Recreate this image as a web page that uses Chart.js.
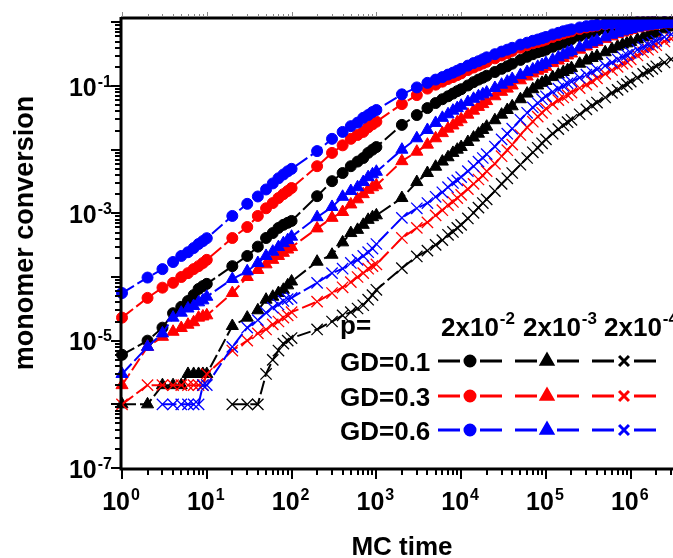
<!DOCTYPE html>
<html>
<head>
<meta charset="utf-8">
<script src="https://cdn.jsdelivr.net/npm/chart.js@4.4.1/dist/chart.umd.min.js"></script>
<style>
html, body { margin: 0; padding: 0; background: #fff; overflow: hidden; }
#wrap { width: 673px; height: 558px; overflow: hidden; }
canvas { display: block; }
</style>
</head>
<body>
<div id="wrap"><canvas id="convChart" width="700" height="558"></canvas></div>
<script>
// MC time grid (shared by every curve)
const mcTime = [1, 2, 3, 4, 5, 6, 7, 8, 9, 10,
  20, 30, 40, 50, 60, 70, 80, 90, 100,
  200, 300, 400, 500, 600, 700, 800, 900, 1000,
  2000, 3000, 4000, 5000, 6000, 7000, 8000, 9000, 10000,
  12000, 14000, 16000, 18000, 20000, 25000, 30000, 35000, 40000, 50000, 60000, 70000, 80000, 90000, 100000,
  120000, 140000, 160000, 180000, 200000, 250000, 300000, 350000, 400000, 500000, 600000, 700000, 800000, 900000, 1000000,
  1200000, 1400000, 1600000, 1800000, 2000000, 2500000, 3000000];

// GD=0.1 (black)
const gd01_p2e2 = [6e-6, 1.0e-5, 1.6e-5, 2.7e-5, 3.4e-5, 4.2e-5, 5.2e-5, 6.5e-5, 7.2e-5, 7.8e-5,
  1.48e-4, 2.14e-4, 3.0e-4, 4.1e-4, 4.9e-4, 5.9e-4, 6.6e-4, 7.1e-4, 7.6e-4,
  1.86e-3, 3.2e-3, 4.3e-3, 5.5e-3, 6.5e-3, 7.4e-3, 8.9e-3, 1.0e-2, 1.1e-2,
  2.45e-2, 3.5e-2, 4.5e-2, 5.4e-2, 6.2e-2, 6.9e-2, 7.6e-2, 8.3e-2, 8.9e-2,
  0.102, 0.115, 0.126, 0.135, 0.145, 0.166, 0.186, 0.204, 0.224, 0.257, 0.288, 0.316, 0.339, 0.355, 0.372,
  0.412, 0.447, 0.479, 0.513, 0.543, 0.61, 0.661, 0.708, 0.741, 0.794, 0.841, 0.871, 0.902, 0.923, 0.938,
  0.959, 0.973, 0.982, 0.989, 0.993, 0.998, 1.0];
const gd01_p2e3 = [1e-6, 1e-6, 2e-6, 2e-6, 2e-6, 3e-6, 3e-6, 3e-6, 3e-6, 3e-6,
  1.7e-5, 2.3e-5, 3.0e-5, 4.4e-5, 4.9e-5, 5.6e-5, 6.3e-5, 7.4e-5, 8.5e-5,
  1.74e-4, 2.24e-4, 3.5e-4, 4.9e-4, 5.5e-4, 6.6e-4, 7.9e-4, 8.7e-4, 9.3e-4,
  1.74e-3, 3.1e-3, 4.3e-3, 5.4e-3, 6.5e-3, 7.6e-3, 8.9e-3, 1.0e-2, 1.1e-2,
  1.32e-2, 1.55e-2, 1.78e-2, 2.04e-2, 2.3e-2, 2.9e-2, 3.55e-2, 4.2e-2, 4.8e-2, 6.2e-2, 7.6e-2, 8.9e-2, 0.102, 0.112, 0.12,
  0.138, 0.151, 0.166, 0.178, 0.191, 0.224, 0.251, 0.275, 0.295, 0.339, 0.38, 0.417, 0.447, 0.468, 0.49,
  0.537, 0.582, 0.624, 0.661, 0.7, 0.776, 0.832];
const gd01_p2e4 = [null, null, null, null, null, null, null, null, null, null,
  1e-6, 1e-6, 1e-6, 3e-6, 5e-6, 7e-6, 9e-6, 1.0e-5, 1.1e-5,
  1.5e-5, 2.0e-5, 2.5e-5, 2.8e-5, 3.2e-5, 3.6e-5, 4.4e-5, 5.2e-5, 6.3e-5,
  1.38e-4, 2.1e-4, 2.6e-4, 3.2e-4, 3.8e-4, 4.6e-4, 5.1e-4, 5.9e-4, 6.6e-4,
  8.3e-4, 1.02e-3, 1.23e-3, 1.45e-3, 1.66e-3, 2.24e-3, 2.9e-3, 3.55e-3, 4.3e-3, 5.8e-3, 7.4e-3, 9.1e-3, 1.07e-2, 1.26e-2, 1.45e-2,
  1.78e-2, 2.1e-2, 2.4e-2, 2.7e-2, 2.95e-2, 3.6e-2, 4.3e-2, 4.9e-2, 5.5e-2, 6.6e-2, 7.8e-2, 8.7e-2, 9.8e-2, 0.107, 0.117,
  0.135, 0.155, 0.17, 0.186, 0.204, 0.234, 0.263];

// GD=0.3 (red)
const gd03_p2e2 = [2.3e-5, 4.7e-5, 6.8e-5, 8.1e-5, 1.0e-4, 1.15e-4, 1.33e-4, 1.48e-4, 1.66e-4, 1.86e-4,
  4.1e-4, 6.1e-4, 9.1e-4, 1.2e-3, 1.45e-3, 1.74e-3, 2.0e-3, 2.24e-3, 2.5e-3,
  5.5e-3, 8.9e-3, 1.17e-2, 1.48e-2, 1.7e-2, 1.9e-2, 2.24e-2, 2.5e-2, 2.75e-2,
  5.2e-2, 7.2e-2, 9.1e-2, 0.105, 0.117, 0.129, 0.138, 0.148, 0.158,
  0.178, 0.195, 0.211, 0.226, 0.24, 0.272, 0.302, 0.327, 0.355, 0.398, 0.437, 0.468, 0.49, 0.513, 0.537,
  0.589, 0.631, 0.668, 0.7, 0.724, 0.785, 0.832, 0.865, 0.891, 0.933, 0.955, 0.97, 0.98, 0.986, 0.99,
  0.994, 0.996, 0.997, 0.998, 0.999, 1.0, 1.0];
const gd03_p2e3 = [2e-6, 8e-6, 1.15e-5, 1.38e-5, 1.58e-5, 1.78e-5, 1.95e-5, 2.3e-5, 2.4e-5, 2.5e-5,
  5.6e-5, 1.0e-4, 1.29e-4, 1.58e-4, 1.86e-4, 2.14e-4, 2.4e-4, 2.7e-4, 2.95e-4,
  5.8e-4, 8.5e-4, 1.05e-3, 1.38e-3, 1.66e-3, 2.0e-3, 2.34e-3, 2.57e-3, 2.75e-3,
  6.6e-3, 9.3e-3, 1.2e-2, 1.51e-2, 1.82e-2, 2.14e-2, 2.4e-2, 2.7e-2, 3.0e-2,
  3.55e-2, 4.1e-2, 4.7e-2, 5.2e-2, 5.8e-2, 6.9e-2, 8.1e-2, 9.1e-2, 0.102, 0.123, 0.141, 0.158, 0.174, 0.186, 0.2,
  0.229, 0.251, 0.275, 0.302, 0.324, 0.372, 0.417, 0.457, 0.49, 0.55, 0.603, 0.653, 0.692, 0.724, 0.759,
  0.804, 0.838, 0.865, 0.887, 0.904, 0.933, 0.953];
const gd03_p2e4 = [1e-6, 2e-6, 2e-6, 2e-6, 2e-6, 2e-6, 2e-6, 2e-6, 2e-6, 3e-6,
  7e-6, 1.0e-5, 1.3e-5, 1.5e-5, 1.8e-5, 2.0e-5, 2.3e-5, 2.5e-5, 2.8e-5,
  4.1e-5, 5.6e-5, 6.9e-5, 8.3e-5, 1.0e-4, 1.15e-4, 1.35e-4, 1.48e-4, 1.58e-4,
  4.1e-4, 5.9e-4, 7.2e-4, 9.3e-4, 1.12e-3, 1.35e-3, 1.51e-3, 1.74e-3, 1.95e-3,
  2.4e-3, 2.9e-3, 3.4e-3, 3.9e-3, 4.6e-3, 6.0e-3, 7.9e-3, 9.8e-3, 1.2e-2, 1.7e-2, 2.24e-2, 2.75e-2, 3.3e-2, 3.8e-2, 4.4e-2,
  5.2e-2, 6.0e-2, 6.6e-2, 7.2e-2, 7.9e-2, 9.3e-2, 0.105, 0.117, 0.132, 0.155, 0.178, 0.2, 0.224, 0.24, 0.263,
  0.302, 0.339, 0.372, 0.407, 0.437, 0.501, 0.55];

// GD=0.6 (blue)
const gd06_p2e2 = [5.6e-5, 9.8e-5, 1.33e-4, 1.72e-4, 2.14e-4, 2.45e-4, 2.85e-4, 3.3e-4, 3.67e-4, 4.07e-4,
  9.1e-4, 1.41e-3, 1.84e-3, 2.37e-3, 2.95e-3, 3.55e-3, 4.07e-3, 4.57e-3, 5.0e-3,
  9.5e-3, 1.48e-2, 1.9e-2, 2.34e-2, 2.66e-2, 3.16e-2, 3.5e-2, 3.9e-2, 4.2e-2,
  7.4e-2, 9.5e-2, 0.112, 0.126, 0.138, 0.151, 0.162, 0.174, 0.186,
  0.209, 0.229, 0.245, 0.263, 0.282, 0.316, 0.347, 0.372, 0.398, 0.447, 0.479, 0.513, 0.537, 0.562, 0.589,
  0.646, 0.684, 0.724, 0.75, 0.776, 0.832, 0.871, 0.891, 0.912, 0.944, 0.966, 0.977, 0.984, 0.989, 0.993,
  0.996, 0.997, 0.998, 0.998, 0.999, 1.0, 1.0];
const gd06_p2e3 = [3e-6, 8e-6, 1.3e-5, 2.3e-5, 2.75e-5, 3.2e-5, 3.5e-5, 4.0e-5, 4.3e-5, 4.9e-5,
  9.3e-5, 1.23e-4, 1.66e-4, 2.14e-4, 2.5e-4, 2.95e-4, 3.4e-4, 3.8e-4, 4.3e-4,
  8.7e-4, 1.26e-3, 1.82e-3, 2.24e-3, 2.57e-3, 3.1e-3, 3.7e-3, 4.1e-3, 4.5e-3,
  1.0e-2, 1.51e-2, 2.04e-2, 2.63e-2, 3.16e-2, 3.6e-2, 4.1e-2, 4.5e-2, 4.9e-2,
  5.6e-2, 6.3e-2, 6.9e-2, 7.4e-2, 7.9e-2, 9.3e-2, 0.105, 0.117, 0.129, 0.148, 0.166, 0.182, 0.2, 0.214, 0.229,
  0.257, 0.282, 0.309, 0.335, 0.355, 0.403, 0.447, 0.484, 0.519, 0.582, 0.638, 0.684, 0.724, 0.759, 0.785,
  0.826, 0.859, 0.883, 0.902, 0.916, 0.942, 0.959];
const gd06_p2e4 = [null, null, 1e-6, 1e-6, 1e-6, 1e-6, 1e-6, 1e-6, 2e-6, 2e-6,
  8e-6, 1.6e-5, 2.1e-5, 2.75e-5, 3.3e-5, 3.7e-5, 4.2e-5, 4.5e-5, 4.7e-5,
  8.1e-5, 1.15e-4, 1.35e-4, 1.66e-4, 1.86e-4, 2.14e-4, 2.45e-4, 2.8e-4, 3.3e-4,
  8.5e-4, 1.2e-3, 1.45e-3, 1.82e-3, 2.14e-3, 2.57e-3, 3.0e-3, 3.3e-3, 3.7e-3,
  4.6e-3, 5.5e-3, 6.5e-3, 7.4e-3, 8.5e-3, 1.12e-2, 1.45e-2, 1.78e-2, 2.14e-2, 2.95e-2, 3.8e-2, 4.6e-2, 5.4e-2, 6.2e-2, 6.9e-2,
  8.1e-2, 9.1e-2, 0.1, 0.11, 0.117, 0.135, 0.151, 0.166, 0.182, 0.209, 0.234, 0.263, 0.288, 0.309, 0.331,
  0.372, 0.407, 0.447, 0.479, 0.513, 0.589, 0.646];

// legend / axis text
const gdLabels = ['GD=0.1', 'GD=0.3', 'GD=0.6'];
const pExponents = ['-2', '-3', '-4'];
const xTickExps = [0, 1, 2, 3, 4, 5, 6];
const yTickExps = [-7, -5, -3, -1];

const colors = ['#000000', '#ff0000', '#0000ff'];
const markers = ['circle', 'triangle', 'crossRot'];
const FONT = '"Liberation Sans", Arial, sans-serif';

function makeSet(label, values, color, marker) {
  const pts = [];
  mcTime.forEach((t, i) => { if (values[i] !== null) pts.push({ x: t, y: values[i] }); });
  const isCross = marker === 'crossRot';
  return {
    label: label,
    data: pts,
    borderColor: color,
    backgroundColor: color,
    borderWidth: 2,
    borderDash: [14, 4],
    pointStyle: marker,
    pointRadius: marker === 'circle' ? 5.5 : (isCross ? 8 : 7),
    pointBorderWidth: isCross ? 1.3 : 1,
    pointBackgroundColor: color,
    pointBorderColor: color,
    tension: 0,
    clip: false
  };
}

// first dataset is painted last, so blue ends up on top
const datasets = [
  makeSet('GD=0.6 p=2x10-2', gd06_p2e2, colors[2], markers[0]),
  makeSet('GD=0.6 p=2x10-3', gd06_p2e3, colors[2], markers[1]),
  makeSet('GD=0.6 p=2x10-4', gd06_p2e4, colors[2], markers[2]),
  makeSet('GD=0.3 p=2x10-2', gd03_p2e2, colors[1], markers[0]),
  makeSet('GD=0.3 p=2x10-3', gd03_p2e3, colors[1], markers[1]),
  makeSet('GD=0.3 p=2x10-4', gd03_p2e4, colors[1], markers[2]),
  makeSet('GD=0.1 p=2x10-2', gd01_p2e2, colors[0], markers[0]),
  makeSet('GD=0.1 p=2x10-3', gd01_p2e3, colors[0], markers[1]),
  makeSet('GD=0.1 p=2x10-4', gd01_p2e4, colors[0], markers[2])
];

// "10" with a raised exponent
function drawPower(ctx, base, exp, x, baseY, align, size, supSize, raise) {
  ctx.font = 'bold ' + size + 'px ' + FONT;
  const w1 = ctx.measureText(base).width;
  ctx.font = 'bold ' + supSize + 'px ' + FONT;
  const w2 = ctx.measureText(exp).width;
  const total = w1 + 1 + w2;
  let left = x;
  if (align === 'right') left = x - total;
  else if (align === 'center') left = x - total / 2;
  ctx.textAlign = 'left';
  ctx.textBaseline = 'alphabetic';
  ctx.font = 'bold ' + size + 'px ' + FONT;
  ctx.fillText(base, left, baseY);
  ctx.font = 'bold ' + supSize + 'px ' + FONT;
  ctx.fillText(exp, left + w1 + 1, baseY - raise);
}

function drawMarker(ctx, style, color, x, y) {
  ctx.fillStyle = color;
  ctx.strokeStyle = color;
  Chart.helpers.drawPoint(ctx, {
    pointStyle: style,
    radius: style === 'circle' ? 5 : (style === 'triangle' ? 6.5 : 7),
    borderWidth: style === 'crossRot' ? 1.2 : 1,
    rotation: 0
  }, x, y);
}

const framePlugin = {
  id: 'originFrame',
  afterDatasetsDraw(chart) {
    const ctx = chart.ctx;
    const a = chart.chartArea;
    const xs = chart.scales.x, ys = chart.scales.y;
    ctx.save();
    ctx.setLineDash([]);
    ctx.strokeStyle = '#000';
    ctx.lineWidth = 3;
    ctx.beginPath();
    ctx.moveTo(a.left - 1, a.top);
    ctx.lineTo(a.right + 20, a.top);
    ctx.moveTo(a.left - 1, a.top - 1);
    ctx.lineTo(a.left - 1, a.bottom + 1);
    ctx.lineTo(a.right + 20, a.bottom + 1);
    ctx.stroke();

    // x ticks: bottom outward, top outward thin
    for (let e = 0; e <= 6; e++) {
      for (let m = 1; m <= 9; m++) {
        const v = m * Math.pow(10, e);
        if (v > xs.max) break;
        const px = Math.round(xs.getPixelForValue(v));
        const len = m === 1 ? 9 : 5;
        ctx.strokeStyle = '#000';
        ctx.lineWidth = 2;
        ctx.beginPath();
        ctx.moveTo(px, a.bottom + 2);
        ctx.lineTo(px, a.bottom + 2 + len);
        ctx.stroke();
        ctx.strokeStyle = '#888';
        ctx.lineWidth = 1;
        ctx.beginPath();
        ctx.moveTo(px + 0.5, a.top - 1);
        ctx.lineTo(px + 0.5, a.top - 1 - (m === 1 ? 5 : 3));
        ctx.stroke();
      }
    }
    // y ticks: left outward
    ctx.strokeStyle = '#000';
    ctx.lineWidth = 2;
    for (let e = -7; e <= 0; e++) {
      for (let m = 1; m <= 9; m++) {
        const v = m * Math.pow(10, e);
        if (v > ys.max) break;
        const py = Math.round(ys.getPixelForValue(v));
        const len = m === 1 ? 9 : 5;
        ctx.beginPath();
        ctx.moveTo(a.left - 2, py);
        ctx.lineTo(a.left - 2 - len, py);
        ctx.stroke();
      }
    }
    ctx.restore();
  },
  afterDraw(chart) {
    const ctx = chart.ctx;
    const xs = chart.scales.x, ys = chart.scales.y;
    ctx.save();
    ctx.fillStyle = '#000';

    // tick labels
    xTickExps.forEach(e => {
      const px = xs.getPixelForValue(Math.pow(10, e));
      drawPower(ctx, '10', String(e), px - 1, 510, 'center', 25, 16, 10);
    });
    yTickExps.forEach(e => {
      const py = ys.getPixelForValue(Math.pow(10, e));
      drawPower(ctx, '10', String(e), 112, py + 9.5, 'right', 25, 16, 9);
    });

    // axis titles
    ctx.font = 'bold 26px ' + FONT;
    ctx.textAlign = 'center';
    ctx.textBaseline = 'alphabetic';
    ctx.fillText('MC time', 402, 555);
    ctx.save();
    ctx.translate(33, 233);
    ctx.rotate(-Math.PI / 2);
    ctx.font = 'bold 27px ' + FONT;
    ctx.fillText('monomer conversion', 0, 0);
    ctx.restore();

    // legend block
    const colX = [470, 547, 624];
    const rowY = [361, 396, 430];
    const headX = [441, 523, 604];
    ctx.textAlign = 'left';
    ctx.font = 'bold 26px ' + FONT;
    ctx.fillText('p=', 340, 334);
    pExponents.forEach((ex, i) => {
      drawPower(ctx, '2x10', ex, headX[i], 336, 'left', 26, 17, 12);
    });
    gdLabels.forEach((lab, r) => {
      ctx.fillStyle = '#000';
      ctx.font = 'bold 26px ' + FONT;
      ctx.textAlign = 'left';
      ctx.fillText(lab, 340, rowY[r] + 10);
      colX.forEach((cx, c) => {
        ctx.strokeStyle = colors[r];
        ctx.lineWidth = 3;
        ctx.setLineDash([]);
        ctx.beginPath();
        ctx.moveTo(cx - 32, rowY[r]);
        ctx.lineTo(cx - 10, rowY[r]);
        ctx.moveTo(cx + 10, rowY[r]);
        ctx.lineTo(cx + 32, rowY[r]);
        ctx.stroke();
        drawMarker(ctx, markers[c], colors[r], cx, rowY[r]);
      });
    });
    ctx.restore();
  }
};

const ctx = document.getElementById('convChart').getContext('2d');
const convChart = new Chart(ctx, {
  type: 'line',
  data: { datasets: datasets },
  options: {
    responsive: false,
    animation: false,
    devicePixelRatio: 1,
    layout: { padding: { left: 122, top: 18, right: 10, bottom: 90 } },
    plugins: { legend: { display: false }, tooltip: { enabled: false } },
    scales: {
      x: {
        type: 'logarithmic',
        min: 1,
        max: 5e6,
        bounds: 'data',
        grid: { display: false, drawTicks: false },
        border: { display: false },
        ticks: { display: false },
        afterFit: s => { s.height = 0; }
      },
      y: {
        type: 'logarithmic',
        min: 1e-7,
        max: 1.17,
        bounds: 'data',
        grid: { display: false, drawTicks: false },
        border: { display: false },
        ticks: { display: false },
        afterFit: s => { s.width = 0; }
      }
    }
  },
  plugins: [framePlugin]
});
</script>
</body>
</html>
